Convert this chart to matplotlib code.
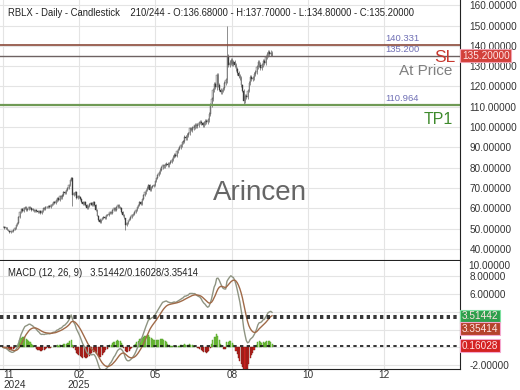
import numpy as np
import pandas as pd
import matplotlib
matplotlib.use('Agg')
from matplotlib import pyplot as plt

plt.rcParams['font.family'] = ['Liberation Sans', 'DejaVu Sans']

# daily closes (210 bars)
closes = [
    51.0, 50.2, 50.6, 49.5, 49.0, 48.4, 48.9, 48.6, 49.5, 50.3,
    51.6, 52.7, 55.5, 58.3, 59.6, 58.8, 60.0, 60.4, 59.2, 59.5,
    60.5, 60.1, 59.0, 59.4, 58.7, 59.1, 58.5, 58.0, 58.6, 57.6,
    58.8, 60.0, 59.6, 60.8, 60.5, 61.2, 60.7, 61.6, 62.3, 63.0,
    62.4, 63.8, 65.0, 64.2, 66.0, 65.3, 66.7, 68.0, 67.4, 69.1,
    70.0, 71.5, 73.9, 75.0, 66.5, 67.3, 68.0, 65.0, 66.2, 65.5,
    64.5, 63.3, 62.0, 63.1, 61.4, 60.0, 61.2, 62.0, 62.5, 61.6,
    63.0, 61.5, 59.0, 56.4, 54.2, 53.0, 54.5, 55.0, 55.8, 55.2,
    56.8, 56.5, 57.4, 58.3, 57.6, 59.0, 60.0, 59.3, 60.8, 61.6,
    60.4, 60.0, 58.3, 56.8, 55.0, 51.7, 52.8, 54.0, 54.9, 55.8,
    56.5, 57.2, 58.0, 59.3, 60.7, 61.5, 63.0, 62.2, 64.6, 66.5,
    67.8, 69.0, 70.2, 71.4, 69.0, 70.3, 70.8, 71.4, 73.5, 75.0,
    76.4, 77.5, 79.0, 80.2, 81.3, 80.6, 81.5, 82.0, 81.2, 82.3,
    82.9, 84.0, 85.4, 86.3, 85.8, 88.0, 89.2, 90.1, 91.1, 92.4,
    93.0, 95.2, 94.6, 96.1, 97.0, 99.3, 98.6, 99.5, 100.0, 101.2,
    100.4, 101.0, 102.1, 102.6, 101.8, 101.0, 102.0, 103.0, 102.4, 103.4,
    106.5, 110.8, 114.0, 118.2, 121.0, 119.5, 125.6, 120.7, 118.5, 117.4,
    118.0, 119.0, 121.5, 123.0, 135.0, 130.5, 131.8, 133.0, 131.0, 132.2,
    130.5, 128.4, 126.6, 125.0, 124.0, 120.5, 118.0, 113.0, 115.5, 114.8,
    118.0, 121.6, 124.8, 123.5, 124.0, 126.0, 127.2, 129.5, 132.0, 130.8,
    129.0, 130.5, 132.4, 131.6, 134.6, 135.8, 137.1, 136.2, 136.68, 135.2,
]
# wicks that stand out on the chart
spike_highs = {174: 150.0, 209: 137.70}
spike_lows = {54: 61.0, 95: 49.5, 187: 111.5, 209: 134.80}

levels = [140.331, 135.200, 110.964]
level_labels = ['140.331', '135.200', '110.964']
last_price = 135.20
price_ticks = [40, 50, 60, 70, 80, 90, 100, 110, 120, 130, 140, 150, 160]
month_pos = [0, 59, 118, 178, 237, 296]
month_labels = ['11\n2024', '02\n2025', '05', '08', '10', '12']
macd_ticks = [-2, 0, 2, 4, 6, 8]
macd_shown = [-2, 6, 8]  # the others sit behind the value boxes
macd_vals = [3.51442, 0.16028, 3.35414]  # macd / hist / signal

title = ('RBLX - Daily - Candlestick    210/244 - O:136.68000 - H:137.70000'
         ' - L:134.80000 - C:135.20000')

c = np.array(closes)
o = np.r_[c[0], c[:-1]]
hi = np.maximum(o, c) + 0.008 * c
lo = np.minimum(o, c) - 0.008 * c
for k, v in spike_highs.items():
    hi[k] = v
for k, v in spike_lows.items():
    lo[k] = v
x = np.arange(len(c))

s = pd.Series(c)
macd = s.ewm(span=12, adjust=False).mean() - s.ewm(span=26, adjust=False).mean()
signal = macd.ewm(span=9, adjust=False).mean()
hist = (macd - signal).values

fig = plt.figure(figsize=(5.2, 3.9), dpi=100)
ax = fig.add_axes([0, 1 - 260 / 390, 460 / 520, 260 / 390])
ax2 = fig.add_axes([0, 1 - 369 / 390, 460 / 520, 108 / 390], sharex=ax)

xl = (-2.3, 355)

for a in (ax, ax2):
    a.set_facecolor('white')
    for sp in ('left', 'top'):
        a.spines[sp].set_visible(False)
    a.spines['right'].set_color('#222')
    a.spines['bottom'].set_color('#222')
    a.grid(True, color='#e4e4e4', lw=0.8)
    a.set_axisbelow(True)
    a.yaxis.tick_right()
    a.tick_params(axis='y', length=0, pad=7, labelsize=7.2, labelcolor='#333')
    a.tick_params(axis='x', length=0)

# ---- price panel
ax.vlines(x, lo, hi, color='#3a3a3a', lw=0.4)
up = c >= o
ax.bar(x[up], (c - o)[up], bottom=o[up], width=0.5, color='white',
       edgecolor='#3a3a3a', lw=0.25)
ax.bar(x[~up], (o - c)[~up], bottom=c[~up], width=0.5, color='#3a3a3a',
       edgecolor='#3a3a3a', lw=0.25)

ax.axhline(levels[0], color='#8b4a3a', lw=1.2)
ax.axhline(levels[1], color='#6e6262', lw=1.0)
ax.axhline(levels[2], color='#6f9a55', lw=1.6)
for lv, lb in zip(levels, level_labels):
    ax.annotate(lb, xy=(0.837, lv), xycoords=('axes fraction', 'data'),
                xytext=(0, 1.5), textcoords='offset points', va='bottom',
                fontsize=6.8, color='#6f6fb5')

ax.set_ylim(34.5, 162.6)
ax.set_yticks(price_ticks)
ax.set_yticklabels(['%.5f' % t for t in price_ticks])
ax.set_xlim(*xl)
ax.tick_params(axis='x', labelbottom=False)

ax.text(1.004, last_price, '%.5f' % last_price, transform=ax.get_yaxis_transform(),
        va='center', ha='left', fontsize=7.2, color='#ffe4e4', clip_on=False,
        bbox=dict(boxstyle='square,pad=0.15', fc='#d2403a', ec='#f2a0b0', lw=0.8))

fig.text(8 / 520, 1 - 13 / 390, title, fontsize=6.85, color='#222', va='center')
fig.text(260 / 520, 1 - 193 / 390, 'Arincen', fontsize=20, color='#555555',
         ha='center', va='center', alpha=0.9)
fig.text(455 / 520, 1 - 58 / 390, 'SL', fontsize=12.5, color='#c8392f',
         ha='right', va='center')
fig.text(452 / 520, 1 - 71 / 390, 'At Price', fontsize=11, color='#808080',
         ha='right', va='center')
fig.text(453 / 520, 1 - 119 / 390, 'TP1', fontsize=11.5, color='#3e8a2c',
         ha='right', va='center')

# ---- MACD panel
pos = hist >= 0
ax2.bar(x[pos], hist[pos], width=0.8, color='#7ccf3c', edgecolor='#4f9a2a', lw=0.3)
ax2.bar(x[~pos], hist[~pos], width=0.8, color='#e02222', edgecolor='#6a1a12', lw=0.3)
ax2.plot(x, macd, color='#8e9482', lw=1.0)
ax2.plot(x, signal, color='#a06a48', lw=1.0)
for v in macd_vals:
    ax2.axhline(v, color='#111', ls=(0, (2, 2)), lw=1.2)

ax2.set_ylim(-2.43, 9.7)
ax2.set_yticks(macd_ticks)
ax2.set_yticklabels(['%.5f' % t if t in macd_shown else '' for t in macd_ticks])
ax2.set_xticks(month_pos)
ax2.set_xticklabels(month_labels, linespacing=0.9)
ax2.tick_params(axis='x', labelsize=7.2, labelcolor='#333', pad=1)
ax2.get_xticklabels()[0].set_ha('left')
ax2.set_xlim(*xl)

fig.text(468 / 520, 1 - 266 / 390, '10.00000', fontsize=7.2, color='#333',
         va='center')
fig.text(8 / 520, 1 - 273 / 390, 'MACD (12, 26, 9)   3.51442/0.16028/3.35414',
         fontsize=6.85, color='#222', va='center')

ytr = ax2.get_yaxis_transform()
box_styles = [('#2e9f4c', '#7ce0a0', 0), ('#b5432c', '#f5a8d0', -8), ('#d42222', '#f5a8d0', 0)]
for v, (fc, ec, dy) in zip([macd_vals[0], macd_vals[2], macd_vals[1]], box_styles):
    ax2.annotate('%.5f' % v, xy=(1.004, v), xycoords=ytr, xytext=(0, dy),
                 textcoords='offset points', va='center', ha='left',
                 fontsize=7.2, color='#ffe4e4', annotation_clip=False,
                 bbox=dict(boxstyle='square,pad=0.15', fc=fc, ec=ec, lw=0.8))

fig.savefig('out.png', dpi=100)
